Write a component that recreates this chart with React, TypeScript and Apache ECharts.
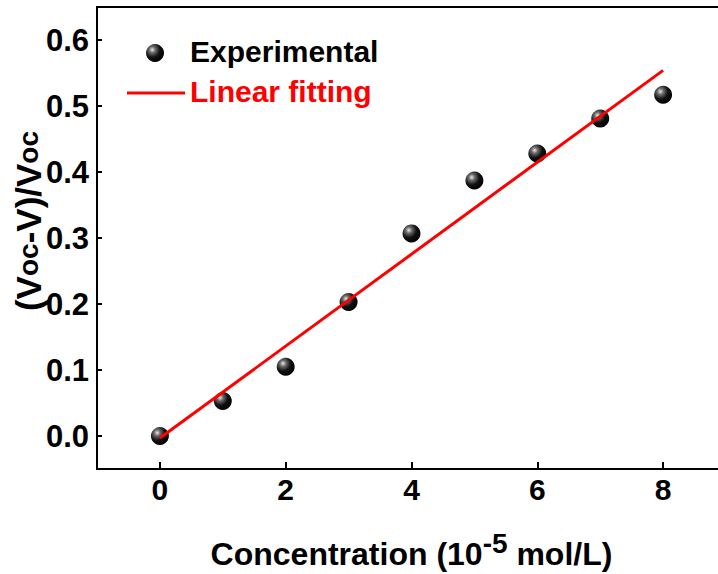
import React, { useEffect, useRef } from "react";
import * as echarts from "echarts";

const concentrations = [0, 1, 2, 3, 4, 5, 6, 7, 8];
const ratioValues = [0, 0.053, 0.105, 0.203, 0.307, 0.387, 0.428, 0.481, 0.517];
const fitX = [0, 8];
const fitY = [-0.003, 0.554];
const xTicks = [0, 2, 4, 6, 8];
const yTicks = [0, 0.1, 0.2, 0.3, 0.4, 0.5, 0.6];
const legendNames = ["Experimental", "Linear fitting"];

const FONT = "'Liberation Sans', Arial, sans-serif";

export default function App() {
  const ref = useRef<HTMLDivElement>(null);
  useEffect(() => {
    if (!ref.current) return;
    const chart = echarts.init(ref.current, null, { renderer: "svg" });
    const sphere = new echarts.graphic.RadialGradient(0.35, 0.32, 0.7, [
      { offset: 0, color: "#e8e8e8" },
      { offset: 0.25, color: "#6a6a6a" },
      { offset: 0.6, color: "#111" },
      { offset: 1, color: "#000" },
    ]);
    chart.setOption({
      animation: false,
      backgroundColor: "#fff",
      grid: {
        left: 97,
        top: 7,
        width: 629,
        height: 462,
        show: true,
        borderColor: "#000",
        borderWidth: 2,
        containLabel: false,
        outerBoundsMode: "none",
      },
      xAxis: {
        type: "value",
        min: -1,
        max: 9,
        axisLine: { show: true, onZero: false, lineStyle: { color: "#000", width: 2 } },
        axisTick: { show: true, inside: true, length: 7, lineStyle: { color: "#000", width: 2 }, customValues: xTicks },
        axisLabel: {
          customValues: xTicks,
          color: "#000",
          fontFamily: FONT,
          fontWeight: "bold",
          fontSize: 30,
          margin: 5,
        },
        splitLine: { show: false },
        name: "Concentration (10{sup|-5} mol/L)",
        nameLocation: "middle",
        nameGap: 60,
        nameTextStyle: {
          color: "#000",
          fontFamily: FONT,
          fontWeight: "bold",
          fontSize: 32,
          rich: {
            sup: {
              color: "#000",
              fontFamily: FONT,
              fontWeight: "bold",
              fontSize: 28,
              verticalAlign: "top",
              padding: [0, 0, 22, 0],
            },
          },
        },
      },
      yAxis: {
        type: "value",
        min: -0.05,
        max: 0.65,
        axisLine: { show: true, onZero: false, lineStyle: { color: "#000", width: 2 } },
        axisTick: { show: true, inside: true, length: 5, lineStyle: { color: "#000", width: 2 }, customValues: yTicks },
        axisLabel: {
          customValues: yTicks,
          color: "#000",
          fontFamily: FONT,
          fontWeight: "bold",
          fontSize: 31,
          margin: 8,
          formatter: (v: number) => v.toFixed(1),
        },
        splitLine: { show: false },
      },
      graphic: [
        {
          type: "text",
          x: 28,
          y: 221,
          rotation: Math.PI / 2,
          style: {
            text: "(V{s|oc}-V)/V{s|oc}",
            fill: "#000",
            font: `bold 35px ${FONT}`,
            align: "center",
            verticalAlign: "middle",
            rich: {
              s: { fontSize: 28, fontWeight: "bold", fontFamily: FONT, fill: "#000" },
            },
          },
        },
        {
          type: "circle",
          shape: { cx: 155, cy: 53, r: 9 },
          style: { fill: sphere },
        },
        {
          type: "text",
          x: 190,
          y: 51,
          style: {
            text: legendNames[0],
            fill: "#000",
            font: `bold 30px ${FONT}`,
            verticalAlign: "middle",
          },
        },
        {
          type: "line",
          shape: { x1: 127, y1: 93, x2: 185, y2: 93 },
          style: { stroke: "#ff0000", lineWidth: 3 },
        },
        {
          type: "text",
          x: 190,
          y: 91,
          style: {
            text: legendNames[1],
            fill: "#ff0000",
            font: `bold 30px ${FONT}`,
            verticalAlign: "middle",
          },
        },
      ],
      series: [
        {
          name: legendNames[0],
          type: "scatter",
          data: concentrations.map((c, i) => [c, ratioValues[i]]),
          symbol: "circle",
          symbolSize: 18,
          itemStyle: { color: sphere, opacity: 1 },
          z: 2,
        },
        {
          name: legendNames[1],
          type: "line",
          data: fitX.map((x, i) => [x, fitY[i]]),
          showSymbol: false,
          symbol: "none",
          lineStyle: { color: "#ff0000", width: 3 },
          z: 3,
        },
      ],
    });
    return () => chart.dispose();
  }, []);
  return (
    <div
      ref={ref}
      style={{ position: "fixed", left: 0, top: 0, width: 718, height: 574, background: "#fff" }}
    />
  );
}
